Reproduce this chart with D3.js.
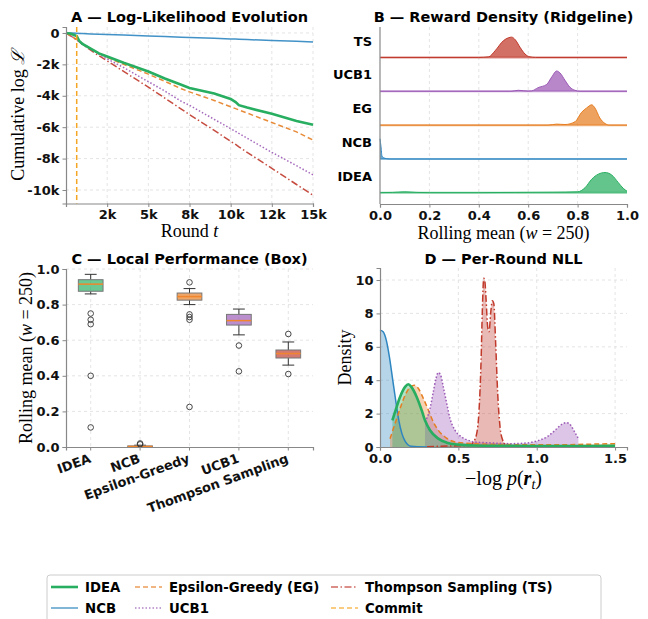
<!DOCTYPE html>
<meta charset="utf-8">
<script src="https://d3js.org/d3.v7.min.js"></script>
<style>
  body { margin: 0; background: #fff; }
  text { font-family: "DejaVu Sans", sans-serif; }
</style>
<div id="chart"></div>
<script>

// ---------- data ----------
const algos = ["IDEA", "NCB", "EG", "UCB1", "TS"];
const colors = {IDEA: "#27ae60", NCB: "#2e86c1", EG: "#e67e22", UCB1: "#9b59b6", TS: "#c0392b", Commit: "#f5a623"};

// panel A: cumulative log-likelihood (in thousands)
const rounds = [0, 300, 650, 800, 1000, 1500, 2000, 2500, 3500, 5000, 6000, 7000, 7500, 9000, 10000, 10300, 10500, 11000, 12500, 14000, 15000];
const llIDEA = [0, -0.05, -0.2, -0.5, -0.7, -1.0, -1.3, -1.5, -1.9, -2.45, -2.9, -3.3, -3.5, -3.85, -4.2, -4.4, -4.6, -4.75, -5.15, -5.6, -5.85];
const llNCB  = [0, -0.01, -0.025, -0.03, -0.04, -0.06, -0.08, -0.1, -0.13, -0.19, -0.23, -0.27, -0.29, -0.34, -0.38, -0.39, -0.4, -0.42, -0.48, -0.53, -0.57];
const llEG   = [0, -0.2, -0.42, -0.52, -0.68, -1.0, -1.28, -1.55, -2.0, -2.62, -3.08, -3.55, -3.75, -4.3, -4.7, -4.82, -4.9, -5.1, -5.7, -6.3, -6.82];
const llUCB1 = [0, -0.2, -0.42, -0.52, -0.7, -1.02, -1.35, -1.65, -2.2, -3.1, -3.7, -4.35, -4.6, -5.5, -6.1, -6.27, -6.4, -6.7, -7.6, -8.45, -9.04];
const llTS   = [0, -0.2, -0.44, -0.55, -0.73, -1.1, -1.45, -1.78, -2.45, -3.45, -4.15, -4.85, -5.2, -6.2, -6.9, -7.1, -7.25, -7.6, -8.62, -9.65, -10.33];
const commitRound = 650;
const roundTicks = [2500, 5000, 7500, 10000, 12500, 15000];
const roundTickLabels = ["2k", "5k", "8k", "10k", "12k", "15k"];
const llTicks = [0, -2, -4, -6, -8, -10];
const llTickLabels = ["0", "-2k", "-4k", "-6k", "-8k", "-10k"];

// panel B: ridgeline densities, [rolling mean, relative height]
const ridgeOrder = ["IDEA", "NCB", "EG", "UCB1", "TS"]; // bottom to top
const ridgeIDEA = [[0, 0.01], [0.05, 0.02], [0.1, 0.05], [0.15, 0.02], [0.2, 0.01], [0.4, 0.01], [0.55, 0.02], [0.7, 0.03], [0.8, 0.05], [0.83, 0.25], [0.857, 0.67], [0.884, 0.92], [0.911, 1.0], [0.938, 0.88], [0.965, 0.5], [0.985, 0.22], [1.0, 0.08]];
const ridgeNCB  = [[0, 1.0], [0.004, 0.6], [0.008, 0.15], [0.015, 0.06], [0.025, 0.02], [0.04, 0], [1.0, 0]];
const ridgeEG   = [[0, 0], [0.68, 0], [0.715, 0.05], [0.749, 0.03], [0.79, 0.17], [0.816, 0.63], [0.837, 0.85], [0.857, 1.0], [0.87, 0.85], [0.89, 0.35], [0.911, 0.08], [0.93, 0], [1.0, 0]];
const ridgeUCB1 = [[0, 0], [0.53, 0], [0.56, 0.05], [0.6, 0.01], [0.614, 0.02], [0.64, 0.18], [0.675, 0.34], [0.695, 0.7], [0.715, 1.0], [0.729, 0.9], [0.749, 0.54], [0.769, 0.2], [0.789, 0.05], [0.81, 0], [1.0, 0]];
const ridgeTS   = [[0, 0], [0.4, 0], [0.44, 0.03], [0.466, 0.33], [0.5, 0.83], [0.52, 0.97], [0.533, 1.0], [0.547, 0.88], [0.567, 0.5], [0.587, 0.17], [0.607, 0.03], [0.63, 0], [1.0, 0]];
const ridgeTicks = [0, 0.2, 0.4, 0.6, 0.8, 1.0];

// panel C: box summaries [low whisker, q1, median, q3, high whisker]
const boxNames = ["IDEA", "NCB", "Epsilon-Greedy", "UCB1", "Thompson Sampling"];
const boxStats = [[0.86, 0.875, 0.915, 0.94, 0.97], [0, 0, 0.003, 0.006, 0.01], [0.80, 0.825, 0.845, 0.865, 0.89], [0.63, 0.685, 0.71, 0.745, 0.775], [0.46, 0.50, 0.525, 0.545, 0.59]];
const boxOutliers = [[0.75, 0.715, 0.69, 0.40, 0.11], [0.02, 0.015], [0.925, 0.745, 0.73, 0.715, 0.225], [0.57, 0.425], [0.635, 0.41]];

// panel D: per-round NLL densities [nll, density]
const nllNCB  = [[0, 7.0], [0.02, 6.9], [0.04, 6.4], [0.06, 5.4], [0.08, 4.1], [0.1, 2.8], [0.12, 1.6], [0.14, 0.8], [0.16, 0.35], [0.18, 0.12], [0.2, 0.04], [0.24, 0.01], [0.3, 0]];
const nllIDEA = [[0.079, 1.6], [0.096, 2.1], [0.128, 3.0], [0.16, 3.6], [0.181, 3.76], [0.2, 3.6], [0.234, 3.0], [0.266, 2.2], [0.287, 1.6], [0.319, 1.0], [0.372, 0.5], [0.426, 0.26], [0.5, 0.14], [0.6, 0.09], [0.8, 0.07], [1.0, 0.06], [1.2, 0.06], [1.5, 0.07]];
const nllEG   = [[0.064, 0.5], [0.096, 1.4], [0.128, 2.3], [0.16, 3.1], [0.19, 3.56], [0.219, 3.7], [0.245, 3.5], [0.277, 2.9], [0.309, 2.2], [0.34, 1.5], [0.372, 1.0], [0.415, 0.6], [0.479, 0.3], [0.6, 0.2], [0.8, 0.15], [1.0, 0.13], [1.2, 0.14], [1.35, 0.17], [1.5, 0.2]];
const nllUCB1 = [[0.287, 1.5], [0.319, 2.3], [0.34, 3.3], [0.357, 4.1], [0.372, 4.46], [0.387, 4.3], [0.404, 3.6], [0.426, 2.6], [0.447, 1.7], [0.479, 1.0], [0.521, 0.6], [0.564, 0.4], [0.6, 0.3], [0.7, 0.25], [0.83, 0.2], [0.936, 0.24], [1.0, 0.36], [1.064, 0.6], [1.117, 1.0], [1.16, 1.36], [1.19, 1.46], [1.217, 1.3], [1.245, 0.85], [1.266, 0.5]];
const nllTS   = [[0.3, 0.02], [0.45, 0.06], [0.574, 0.1], [0.596, 0.3], [0.617, 0.8], [0.632, 2.2], [0.645, 5.2], [0.653, 8.2], [0.662, 10.1], [0.668, 10.0], [0.677, 8.8], [0.687, 7.2], [0.696, 6.9], [0.706, 8.0], [0.717, 8.76], [0.726, 8.6], [0.738, 6.2], [0.751, 3.2], [0.766, 1.2], [0.783, 0.4], [0.8, 0.15], [0.83, 0.04]];
const nllXTicks = [0, 0.5, 1.0, 1.5];
const nllYTicks = [0, 2, 4, 6, 8, 10];

// ---------- styles ----------
const dashes = {IDEA: null, NCB: null, EG: "5,3", UCB1: "1.5,2", TS: "7,2.5,1.5,2.5", Commit: "5,3"};
const widths = {IDEA: 2.6, NCB: 1.5, EG: 1.5, UCB1: 1.5, TS: 1.5, Commit: 1.5};
const tickFont = "bold 13px 'DejaVu Sans'";
const serif = "'Liberation Serif', 'DejaVu Serif', serif";

const svg = d3.select("#chart").append("svg")
  .attr("width", 648).attr("height", 619);

function styleAxis(g) {
  g.select(".domain").attr("stroke", "#888").attr("stroke-width", 1.2);
  g.selectAll(".tick line").attr("stroke", "#888");
  g.selectAll(".tick text").style("font", tickFont).attr("fill", "#111");
}
function title(x, y, txt) {
  svg.append("text").attr("x", x).attr("y", y).attr("text-anchor", "middle")
    .style("font", "bold 14.5px 'DejaVu Sans'").text(txt);
}
function gridX(g, scale, ticks, y0, y1) {
  g.append("g").selectAll("line").data(ticks).join("line")
    .attr("x1", d => scale(d)).attr("x2", d => scale(d)).attr("y1", y0).attr("y2", y1)
    .attr("stroke", "#ddd").attr("stroke-width", 0.8).attr("stroke-dasharray", "3,3");
}
function gridY(g, scale, ticks, x0, x1) {
  g.append("g").selectAll("line").data(ticks).join("line")
    .attr("y1", d => scale(d)).attr("y2", d => scale(d)).attr("x1", x0).attr("x2", x1)
    .attr("stroke", "#ddd").attr("stroke-width", 0.8).attr("stroke-dasharray", "3,3");
}

// ---------- panel A ----------
{
  const L = 66, R = 313, T = 27, B = 203.5;
  const x = d3.scaleLinear().domain([0, 15000]).range([L, R]);
  const y = d3.scaleLinear().domain([-10.86, 0.38]).range([B, T]);
  const g = svg.append("g");
  gridX(g, x, roundTicks, T, B);
  gridY(g, y, llTicks, L, R);

  const series = {IDEA: llIDEA, NCB: llNCB, EG: llEG, UCB1: llUCB1, TS: llTS};
  const line = d3.line().x((d, i) => x(rounds[i])).y(d => y(d));
  ["NCB", "TS", "UCB1", "EG", "IDEA"].forEach(k => {
    g.append("path").datum(series[k]).attr("d", line)
      .attr("fill", "none").attr("stroke", colors[k]).attr("stroke-width", widths[k])
      .attr("stroke-dasharray", dashes[k]).attr("opacity", k === "IDEA" ? 1 : 0.9);
  });
  g.append("line").attr("x1", x(commitRound)).attr("x2", x(commitRound)).attr("y1", T).attr("y2", B)
    .attr("stroke", colors.Commit).attr("stroke-width", 1.5).attr("stroke-dasharray", "5,3");

  g.append("g").attr("transform", `translate(0,${B})`)
    .call(d3.axisBottom(x).tickValues(roundTicks).tickFormat((d, i) => roundTickLabels[i]).tickSizeOuter(0).tickSize(3.5))
    .call(styleAxis);
  g.append("g").attr("transform", `translate(${L},0)`)
    .call(d3.axisLeft(y).tickValues(llTicks).tickFormat((d, i) => llTickLabels[i]).tickSizeOuter(0).tickSize(3.5))
    .call(styleAxis);

  title((L + R) / 2, 21.5, "A — Log-Likelihood Evolution");
  const xl = svg.append("text").attr("x", (L + R) / 2).attr("y", 237).attr("text-anchor", "middle")
    .style("font-family", serif).style("font-size", "18px");
  xl.append("tspan").text("Round ");
  xl.append("tspan").style("font-style", "italic").text("t");
  const yl = svg.append("text").attr("transform", `translate(24,${(T + B) / 2}) rotate(-90)`)
    .attr("text-anchor", "middle").style("font-family", serif).style("font-size", "18px");
  yl.append("tspan").text("Cumulative log ");
  yl.append("tspan").style("font-style", "italic").text("ℒ");
}

// ---------- panel B ----------
{
  const L = 380, R = 627, T = 27, B = 204;
  const x = d3.scaleLinear().domain([0, 1]).range([L, R]);
  const y = d3.scaleLinear().domain([-0.33, 4.9]).range([B, T]);
  const g = svg.append("g");
  gridX(g, x, [0.2, 0.4, 0.6, 0.8], T, B);
  const ridges = {IDEA: ridgeIDEA, NCB: ridgeNCB, EG: ridgeEG, UCB1: ridgeUCB1, TS: ridgeTS};
  ridgeOrder.forEach((k, i) => {
    const base = y(i), hh = y(i) - y(i + 0.6);
    const area = d3.area().curve(d3.curveMonotoneX).x(d => x(d[0])).y0(base).y1(d => base - d[1] * hh);
    const line = d3.line().curve(d3.curveMonotoneX).x(d => x(d[0])).y(d => base - d[1] * hh);
    g.append("path").datum(ridges[k]).attr("d", area).attr("fill", colors[k]).attr("fill-opacity", 0.72);
    g.append("line").attr("x1", L).attr("x2", R).attr("y1", base).attr("y2", base)
      .attr("stroke", colors[k]).attr("stroke-width", 2).attr("opacity", 0.55);
    g.append("path").datum(ridges[k]).attr("d", line).attr("fill", "none")
      .attr("stroke", colors[k]).attr("stroke-width", 1);
    svg.append("text").attr("x", 372).attr("y", y(i + 0.5) + 5).attr("text-anchor", "end")
      .style("font", "bold 13px 'DejaVu Sans'").text(k);
  });
  g.append("g").attr("transform", `translate(0,${B})`)
    .call(d3.axisBottom(x).tickValues(ridgeTicks).tickFormat(d3.format(".1f")).tickSizeOuter(0).tickSize(3.5))
    .call(styleAxis);
  g.append("line").attr("x1", L).attr("x2", L).attr("y1", T).attr("y2", B).attr("stroke", "#888").attr("stroke-width", 1.2);

  title((L + R) / 2, 21.5, "B — Reward Density (Ridgeline)");
  const xl = svg.append("text").attr("x", (L + R) / 2).attr("y", 239).attr("text-anchor", "middle")
    .style("font-family", serif).style("font-size", "18px");
  xl.append("tspan").text("Rolling mean (");
  xl.append("tspan").style("font-style", "italic").text("w");
  xl.append("tspan").text(" = 250)");
}

// ---------- panel C ----------
{
  const L = 66, R = 313, T = 269, B = 447;
  const x = d3.scaleBand().domain(boxNames).range([L, R]);
  const y = d3.scaleLinear().domain([0, 1]).range([B, T]);
  const g = svg.append("g");
  gridX(g, d => x(d) + x.bandwidth() / 2, boxNames, T, B);
  gridY(g, y, [0.2, 0.4, 0.6, 0.8, 1.0], L, R);
  const boxColors = [colors.IDEA, colors.NCB, colors.EG, colors.UCB1, colors.TS];
  const bw = x.bandwidth() * 0.5, cw = x.bandwidth() * 0.24;
  boxNames.forEach((n, i) => {
    const cx = x(n) + x.bandwidth() / 2, s = boxStats[i];
    g.append("line").attr("x1", cx).attr("x2", cx).attr("y1", y(s[0])).attr("y2", y(s[1])).attr("stroke", "#333");
    g.append("line").attr("x1", cx).attr("x2", cx).attr("y1", y(s[3])).attr("y2", y(s[4])).attr("stroke", "#333");
    [s[0], s[4]].forEach(v => g.append("line").attr("x1", cx - cw / 2).attr("x2", cx + cw / 2)
      .attr("y1", y(v)).attr("y2", y(v)).attr("stroke", "#333"));
    g.append("rect").attr("x", cx - bw / 2).attr("width", bw).attr("y", y(s[3])).attr("height", Math.max(1, y(s[1]) - y(s[3])))
      .attr("fill", boxColors[i]).attr("fill-opacity", 0.68).attr("stroke", "#777").attr("stroke-width", 1);
    g.append("line").attr("x1", cx - bw / 2).attr("x2", cx + bw / 2).attr("y1", y(s[2])).attr("y2", y(s[2]))
      .attr("stroke", "#f0852d").attr("stroke-width", 1.5);
    g.selectAll(null).data(boxOutliers[i]).join("circle").attr("cx", cx).attr("cy", d => y(d)).attr("r", 2.8)
      .attr("fill", "none").attr("stroke", "#333").attr("stroke-width", 0.9);
  });
  const xa = g.append("g").attr("transform", `translate(0,${B})`)
    .call(d3.axisBottom(x).tickSizeOuter(0).tickSize(3.5)).call(styleAxis);
  xa.selectAll(".tick text").attr("text-anchor", "end").attr("dy", null).attr("y", null)
    .attr("transform", "translate(1,15) rotate(-20)");
  g.append("g").attr("transform", `translate(${L},0)`)
    .call(d3.axisLeft(y).tickValues([0, 0.2, 0.4, 0.6, 0.8, 1.0]).tickFormat(d3.format(".1f")).tickSizeOuter(0).tickSize(3.5))
    .call(styleAxis);

  title((L + R) / 2, 263.5, "C — Local Performance (Box)");
  const yl = svg.append("text").attr("transform", `translate(32,${(T + B) / 2}) rotate(-90)`)
    .attr("text-anchor", "middle").style("font-family", serif).style("font-size", "18px");
  yl.append("tspan").text("Rolling mean (");
  yl.append("tspan").style("font-style", "italic").text("w");
  yl.append("tspan").text(" = 250)");
}

// ---------- panel D ----------
{
  const L = 380, R = 627, T = 268, B = 447;
  const x = d3.scaleLinear().domain([0, 1.576]).range([L, R]);
  const y = d3.scaleLinear().domain([0, 10.72]).range([B, T]);
  const g = svg.append("g");
  gridX(g, x, [0.5, 1.0, 1.5], T, B);
  gridY(g, y, [2, 4, 6, 8, 10], L, R);
  const dens = {IDEA: nllIDEA, NCB: nllNCB, EG: nllEG, UCB1: nllUCB1, TS: nllTS};
  const area = d3.area().curve(d3.curveMonotoneX).x(d => x(d[0])).y0(y(0)).y1(d => y(d[1]));
  const line = d3.line().curve(d3.curveMonotoneX).x(d => x(d[0])).y(d => y(d[1]));
  const order = ["NCB", "EG", "UCB1", "TS", "IDEA"];
  order.forEach(k => {
    g.append("path").datum(dens[k]).attr("d", area).attr("fill", colors[k]).attr("fill-opacity", 0.35);
  });
  order.forEach(k => {
    g.append("path").datum(dens[k]).attr("d", line).attr("fill", "none")
      .attr("stroke", colors[k]).attr("stroke-width", widths[k]).attr("stroke-dasharray", dashes[k]);
  });
  g.append("g").attr("transform", `translate(0,${B})`)
    .call(d3.axisBottom(x).tickValues(nllXTicks).tickFormat(d3.format(".1f")).tickSizeOuter(0).tickSize(3.5))
    .call(styleAxis);
  g.append("g").attr("transform", `translate(${L},0)`)
    .call(d3.axisLeft(y).tickValues(nllYTicks).tickFormat(d3.format("d")).tickSizeOuter(0).tickSize(3.5))
    .call(styleAxis);

  title((L + R) / 2, 263.5, "D — Per-Round NLL");
  svg.append("text").attr("transform", `translate(351,${(T + B) / 2}) rotate(-90)`)
    .attr("text-anchor", "middle").style("font-family", serif).style("font-size", "18px").text("Density");
  const xl = svg.append("text").attr("x", (L + R) / 2).attr("y", 485).attr("text-anchor", "middle")
    .style("font-family", serif).style("font-size", "20px");
  xl.append("tspan").text("−log ");
  xl.append("tspan").style("font-style", "italic").text("p");
  xl.append("tspan").text("(");
  xl.append("tspan").style("font-style", "italic").style("font-weight", "bold").text("r");
  xl.append("tspan").style("font-style", "italic").style("font-size", "14px").attr("dy", 4).text("t");
  xl.append("tspan").attr("dy", -4).text(")");
}

// ---------- legend ----------
{
  const items = [
    {k: "IDEA", label: "IDEA"}, {k: "NCB", label: "NCB"},
    {k: "EG", label: "Epsilon-Greedy (EG)"}, {k: "UCB1", label: "UCB1"},
    {k: "TS", label: "Thompson Sampling (TS)"}, {k: "Commit", label: "Commit"}
  ];
  const colX = [51, 135, 331], rowY = [587, 608];
  const lg = svg.append("g");
  lg.append("rect").attr("x", 47).attr("y", 575).attr("width", 554).attr("height", 50).attr("rx", 3)
    .attr("fill", "#fff").attr("stroke", "#ccc");
  items.forEach((it, i) => {
    const cx = colX[Math.floor(i / 2)], cy = rowY[i % 2];
    lg.append("line").attr("x1", cx).attr("x2", cx + 27).attr("y1", cy).attr("y2", cy)
      .attr("stroke", colors[it.k]).attr("stroke-width", it.k === "IDEA" ? 2.6 : 1.6)
      .attr("stroke-dasharray", dashes[it.k]).attr("opacity", it.k === "IDEA" ? 1 : 0.75);
    lg.append("text").attr("x", cx + 34).attr("y", cy + 5).style("font", "bold 13.3px 'DejaVu Sans'").text(it.label);
  });
}
</script>
